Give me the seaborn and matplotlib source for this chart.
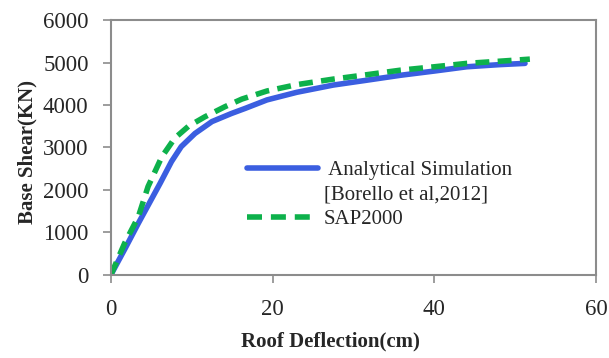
import matplotlib
matplotlib.use("Agg")
import matplotlib.pyplot as plt
from matplotlib.lines import Line2D
import seaborn as sns
import pandas as pd

# Analytical Simulation [Borello et al, 2012]
analytical_x = [0, 1.7, 3.4, 6.1, 7.5, 8.7, 10.4, 12.5, 14.9, 16.6, 19.3, 23.0, 27.5, 31.5, 35.8, 40.0, 44.0, 48.0, 51.2]
analytical_y = [0, 600, 1216, 2160, 2670, 3020, 3330, 3610, 3800, 3920, 4120, 4300, 4470, 4580, 4700, 4800, 4900, 4950, 4980]

# SAP2000
sap_x = [0, 1.7, 3.4, 4.6, 6.3, 7.9, 9.6, 11.6, 14.1, 16.2, 19.3, 23.0, 27.5, 31.5, 35.8, 40.0, 44.0, 48.0, 51.8]
sap_y = [0, 745, 1370, 2080, 2780, 3220, 3500, 3720, 3960, 4140, 4330, 4480, 4610, 4710, 4820, 4900, 4980, 5030, 5080]

legend_labels = [" Analytical Simulation", "[Borello et al,2012]", "SAP2000"]

blue = "#3B5EE0"
green = "#0DB14B"
spine_gray = "#8C8C8C"

sns.set_style("white")
plt.rcParams["font.family"] = ["Liberation Serif", "DejaVu Serif"]

df_a = pd.DataFrame({"x": analytical_x, "y": analytical_y})
df_s = pd.DataFrame({"x": sap_x, "y": sap_y})

fig = plt.figure(figsize=(6.09, 3.58), dpi=100)
ax = fig.add_axes([0.182, 0.232, 0.797, 0.712])

sns.lineplot(data=df_a, x="x", y="y", ax=ax, color=blue, linewidth=4,
             sort=False, legend=False)
sns.lineplot(data=df_s, x="x", y="y", ax=ax, color=green, linewidth=4,
             linestyle=(0, (2.5, 1.5)), sort=False, legend=False)

ax.set_xlim(0, 60)
ax.set_ylim(0, 6000)
ax.set_xticks([0, 20, 40, 60])
ax.set_yticks(range(0, 6001, 1000))
ax.tick_params(axis="both", labelsize=16.5, direction="out", length=6,
               color=spine_gray, width=1.2, bottom=True, left=True)
ax.tick_params(axis="y", pad=10)
ax.tick_params(axis="x", pad=11)

for s in ax.spines.values():
    s.set_color(spine_gray)
    s.set_linewidth(1.5)

ax.set_xlabel("Roof Deflection(cm)", fontsize=15, fontweight="bold")
ax.set_ylabel("Base Shear(KN)", fontsize=15, fontweight="bold")
ax.xaxis.set_label_coords(0.453, -0.22)
ax.yaxis.set_label_coords(-0.152, 0.482)

# legend: handle drawn on the first text line only, like the original
handles = [
    Line2D([], [], color=blue, linewidth=4),
    Line2D([], [], color="none", linewidth=0),
    Line2D([], [], color=green, linewidth=4, linestyle=(0, (2.7, 1.6))),
]
ax.legend(handles, legend_labels, loc="upper left", bbox_to_anchor=(0.28, 0.448),
          frameon=False, fontsize=15, handlelength=3.4, handletextpad=0.3,
          labelspacing=0.23, borderpad=0, borderaxespad=0)

fig.savefig("out.png", dpi=100)
